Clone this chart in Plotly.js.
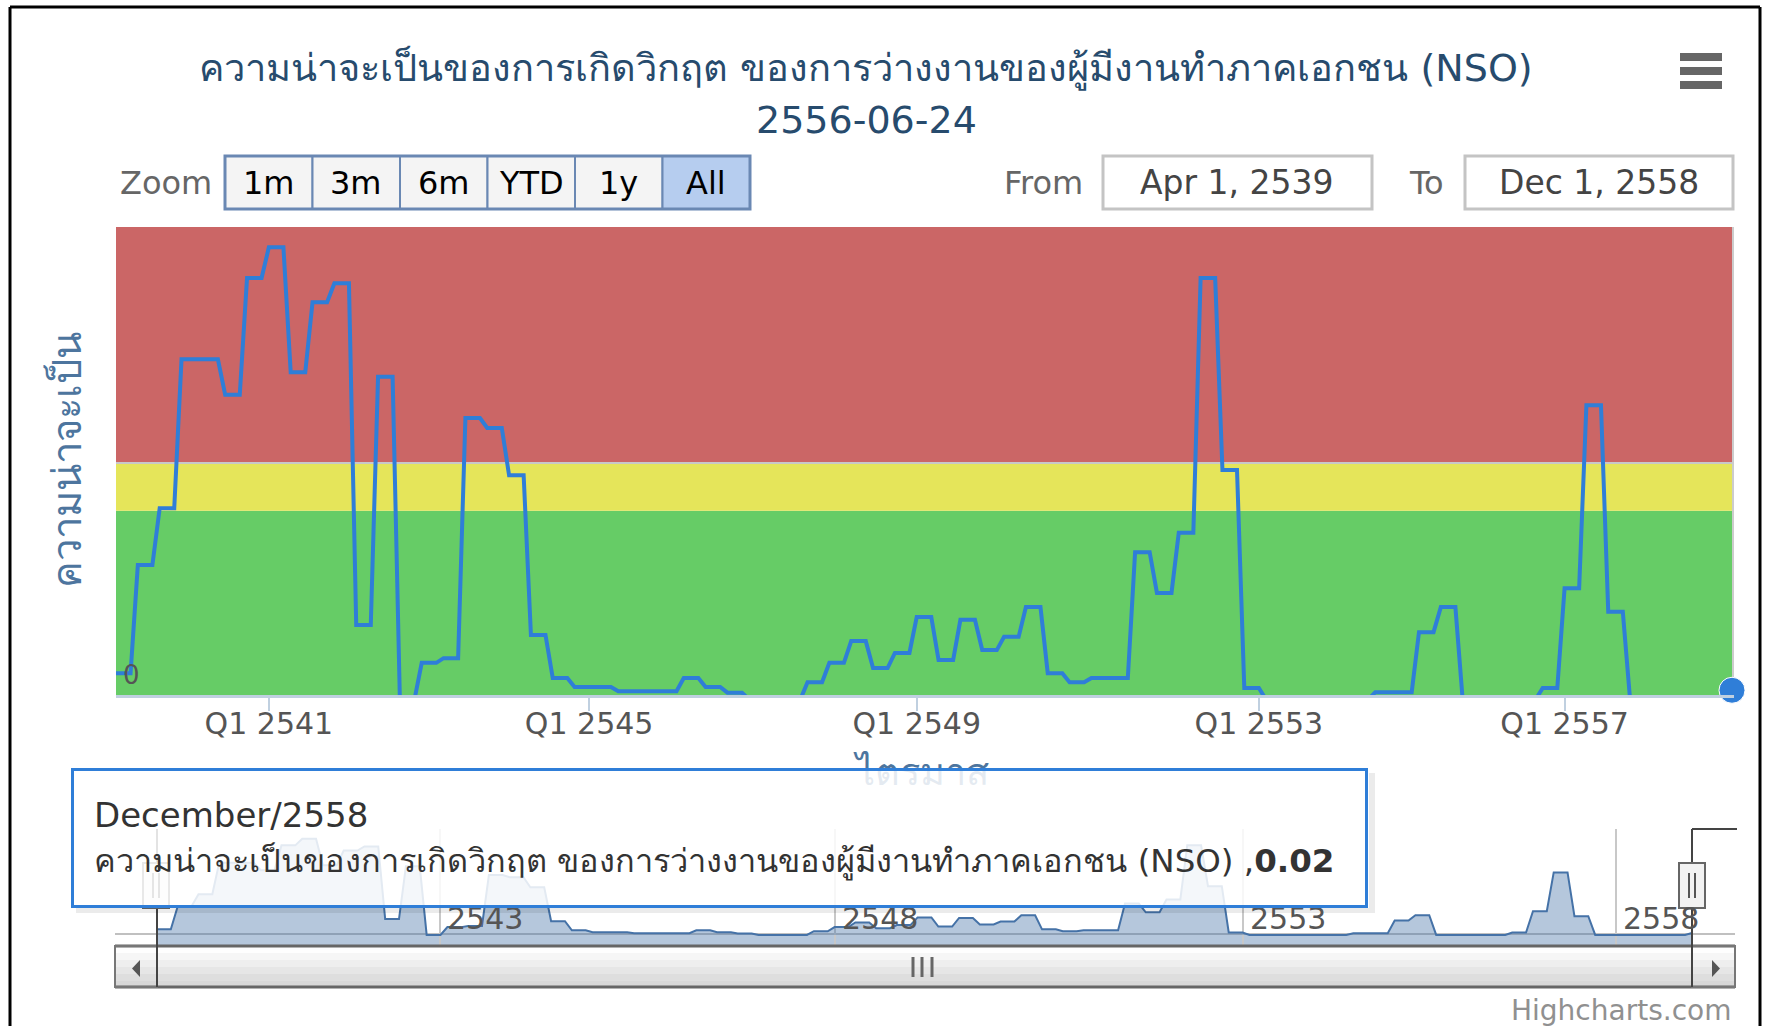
<!DOCTYPE html>
<html>
<head>
<meta charset="utf-8">
<script src="https://cdn.plot.ly/plotly-3.0.1.min.js"></script>
<style>
  html, body { margin: 0; padding: 0; background: #fff; }
  #chart { width: 1768px; height: 1026px; }
</style>
</head>
<body>
<div id="chart"></div>
<script>
// ข้อมูลความน่าจะเป็น (รายเดือน, แกน x แบบ ordinal)
var values = [
  0.056, 0.056, 0.056, 0.285, 0.285, 0.285, 0.405, 0.405, 0.405,
  0.72, 0.72, 0.72, 0.72, 0.72, 0.72,
  0.645, 0.645, 0.645, 0.892, 0.892, 0.892,
  0.957, 0.957, 0.957, 0.693, 0.693, 0.693, 0.841, 0.841, 0.841, 0.881, 0.881, 0.881,
  0.158, 0.158, 0.158, 0.683, 0.683, 0.683, 0, 0, 0,
  0.078, 0.078, 0.078, 0.088, 0.088, 0.088, 0.596, 0.596, 0.596, 0.575, 0.575, 0.575,
  0.475, 0.475, 0.475, 0.137, 0.137, 0.137, 0.046, 0.046, 0.046,
  0.027, 0.027, 0.027, 0.027, 0.027, 0.027,
  0.018, 0.018, 0.018, 0.018, 0.018, 0.018, 0.018, 0.018, 0.018,
  0.046, 0.046, 0.046, 0.027, 0.027, 0.027, 0.015, 0.015, 0.015,
  0, 0, 0, 0, 0, 0, 0, 0,
  0.037, 0.037, 0.037, 0.078, 0.078, 0.078, 0.124, 0.124, 0.124, 0.067, 0.067, 0.067,
  0.099, 0.099, 0.099, 0.175, 0.175, 0.175, 0.084, 0.084, 0.084, 0.169, 0.169, 0.169,
  0.105, 0.105, 0.105, 0.133, 0.133, 0.133, 0.196, 0.196, 0.196, 0.056, 0.056, 0.056,
  0.037, 0.037, 0.037,
  0.046, 0.046, 0.046, 0.046, 0.046, 0.046,
  0.312, 0.312, 0.312, 0.226, 0.226, 0.226, 0.353, 0.353, 0.353,
  0.892, 0.892, 0.892, 0.486, 0.486, 0.486, 0.025, 0.025, 0.025,
  0, 0, 0, 0, 0, 0, 0, 0, 0, 0, 0, 0, 0, 0, 0,
  0.016, 0.016, 0.016, 0.016, 0.016, 0.016,
  0.143, 0.143, 0.143, 0.196, 0.196, 0.196,
  0, 0, 0, 0, 0, 0, 0, 0, 0, 0, 0,
  0.025, 0.025, 0.025, 0.236, 0.236, 0.236, 0.623, 0.623, 0.623, 0.186, 0.186, 0.186,
  0, 0, 0, 0, 0, 0, 0, 0, 0, 0, 0, 0, 0, 0,
  0.02
]

var quarterTicks = [21, 65, 110, 157, 199]
var quarterLabels = ['Q1 2541', 'Q1 2545', 'Q1 2549', 'Q1 2553', 'Q1 2557']
var navTicks = [41, 98, 157, 211]
var navLabels = ['2543', '2548', '2553', '2558']

var bandFrom = [0, 0.4, 0.5]
var bandTo = [0.4, 0.5, 1.0]
var bandColors = ['#66cc66', '#e5e55a', '#cb6666']

var zoomButtons = ['1m', '3m', '6m', 'YTD', '1y', 'All']
var fromDate = 'Apr 1, 2539'
var toDate = 'Dec 1, 2558'

var seriesName = 'ความน่าจะเป็นของการเกิดวิกฤต ของการว่างงานของผู้มีงานทำภาคเอกชน (NSO)'
var subTitle = '2556-06-24'
var yTitle = 'ความน่าจะเป็น'
var xTitle = 'ไตรมาส'
var hoverMonth = 'December/2558'

var W = 1768, H = 1026
var FONT = 'DejaVu Sans, Noto Sans, sans-serif'
function px(x) { return x / W }
function py(y) { return 1 - y / H }

var idx = values.map(function (v, i) { return i })
var last = values.length - 1

// เส้นหลัก
var data = [
  {
    x: idx, y: values, mode: 'lines', xaxis: 'x', yaxis: 'y',
    line: { color: '#2f7ed8', width: 4 }, hoverinfo: 'skip'
  },
  // navigator
  {
    x: idx, y: values, mode: 'lines', xaxis: 'x2', yaxis: 'y2',
    fill: 'tozeroy', fillcolor: 'rgba(69,114,167,0.4)',
    line: { color: '#4572a7', width: 2 }, hoverinfo: 'skip'
  },
  // จุดที่ถูกเลือก
  {
    x: [idx[last]], y: [values[last]], mode: 'markers', xaxis: 'x', yaxis: 'y',
    marker: { size: 26, color: '#2f7ed8', line: { color: '#ffffff', width: 1 } },
    cliponaxis: false, hoverinfo: 'skip'
  }
]

var shapes = []
function rectPx(x0, y0, x1, y1, fill, lineColor, lineWidth, layer) {
  shapes.push({
    type: 'rect', xref: 'paper', yref: 'paper',
    x0: px(x0), x1: px(x1), y0: py(y1), y1: py(y0),
    fillcolor: fill, line: { color: lineColor || 'rgba(0,0,0,0)', width: lineWidth || 0 },
    layer: layer || 'above'
  })
}
function linePx(x0, y0, x1, y1, color, width) {
  shapes.push({
    type: 'line', xref: 'paper', yref: 'paper',
    x0: px(x0), x1: px(x1), y0: py(y0), y1: py(y1),
    line: { color: color, width: width }, layer: 'above'
  })
}
function pathPx(pts, fill) {
  var d = pts.map(function (p, i) { return (i ? 'L ' : 'M ') + px(p[0]) + ' ' + py(p[1]) }).join(' ') + ' Z'
  shapes.push({ type: 'path', xref: 'paper', yref: 'paper', path: d, fillcolor: fill, line: { width: 0 }, layer: 'above' })
}

// แถบสี
for (var b = 0; b < bandFrom.length; b++) {
  shapes.push({
    type: 'rect', xref: 'x', yref: 'y', x0: 0, x1: last, y0: bandFrom[b], y1: bandTo[b],
    fillcolor: bandColors[b], line: { width: 0 }, layer: 'below'
  })
}

// navigator: พื้นใต้ศูนย์ + เส้นแกน
shapes.push({
  type: 'rect', xref: 'x2', yref: 'y2', x0: 0, x1: last, y0: -0.11, y1: 0,
  fillcolor: 'rgba(69,114,167,0.4)', line: { width: 0 }, layer: 'below'
})
shapes.push({
  type: 'line', xref: 'paper', yref: 'paper', x0: px(115), x1: px(1735), y0: py(934), y1: py(934),
  line: { color: '#c0c0c0', width: 2 }, layer: 'below'
})

// scrollbar
var stripes = ['#fefefe', '#f6f6f6', '#eeeeee', '#e6e6e6', '#dedede', '#d8d8d8']
for (var s = 0; s < stripes.length; s++) {
  rectPx(115, 946 + s * 7, 1735, Math.min(987, 953 + s * 7), stripes[s])
}
linePx(115, 946, 1735, 946, '#666', 3)
linePx(115, 987, 1735, 987, '#666', 3)
rectPx(115, 946, 157, 987, 'rgba(0,0,0,0)', '#777', 2)
rectPx(1692, 946, 1735, 987, 'rgba(0,0,0,0)', '#777', 2)
pathPx([[140, 960], [132, 968.5], [140, 977]], '#555')
pathPx([[1712, 960], [1720, 968.5], [1712, 977]], '#555')
;[913, 922, 932].forEach(function (gx) { linePx(gx, 957, gx, 977, '#666', 3) })

// navigator outline + handles
linePx(157, 829, 157, 987, '#444', 2)
linePx(1692, 829, 1692, 987, '#444', 2)
linePx(1692, 829, 1737, 829, '#444', 2)
;[156, 1692].forEach(function (hx) {
  rectPx(hx - 13, 863, hx + 13, 908, '#f2f2f2', '#666', 2)
  linePx(hx - 3, 873, hx - 3, 898, '#555', 2)
  linePx(hx + 3, 873, hx + 3, 898, '#555', 2)
})

// ปุ่ม zoom
var btnLeft = 225, btnW = 87.5
zoomButtons.forEach(function (t, i) {
  var sel = i === zoomButtons.length - 1
  rectPx(btnLeft + i * btnW, 156, btnLeft + (i + 1) * btnW, 209, sel ? '#b6cdef' : '#f4f4f4', '#6a88b3', 2)
})
rectPx(btnLeft, 156, btnLeft + zoomButtons.length * btnW, 209, 'rgba(0,0,0,0)', '#6a88b3', 3)

// ช่อง From / To
rectPx(1103, 156, 1372, 209, '#ffffff', '#c4c4c4', 3)
rectPx(1465, 156, 1733, 209, '#ffffff', '#c4c4c4', 3)

// เมนู
;[53, 67, 81].forEach(function (my) { rectPx(1680, my, 1722, my + 8, '#666') })

// tooltip shadow
rectPx(1369, 773, 1375, 913, 'rgba(0,0,0,0.08)')
rectPx(76, 908, 1369, 913, 'rgba(0,0,0,0.08)')

// กรอบภาพ
linePx(10, 7, 1760, 7, '#000', 3)
linePx(10, 7, 10, 1026, '#000', 3)
linePx(1760, 7, 1760, 1026, '#000', 3)

var annotations = []
function textPx(x, y, text, size, color, anchor, extra) {
  var a = {
    xref: 'paper', yref: 'paper', x: px(x), y: py(y), text: text, showarrow: false,
    xanchor: anchor || 'center', yanchor: 'middle',
    font: { family: FONT, size: size, color: color }
  }
  for (var k in extra || {}) a[k] = extra[k]
  annotations.push(a)
}

textPx(866, 120, subTitle, 38, '#274b6d')
textPx(66, 460, yTitle, 40, '#4d759e', 'center', { textangle: -90 })
textPx(921, 772, xTitle, 38, '#4d759e')

navLabels.forEach(function (t, i) {
  annotations.push({
    xref: 'x2', yref: 'paper', x: navTicks[i], y: py(918), text: t, showarrow: false,
    xanchor: 'left', yanchor: 'middle', xshift: 5, font: { family: FONT, size: 30, color: '#555' }
  })
})

annotations.push({
  xref: 'x', yref: 'y', x: idx[2], y: values[2], text: '0', showarrow: false,
  xshift: 1, yshift: -2, font: { family: FONT, size: 26, color: '#555' }
})

textPx(118, 183, 'Zoom', 32, '#666', 'left')
zoomButtons.forEach(function (t, i) {
  textPx(btnLeft + (i + 0.5) * btnW, 183, t, 32, '#000')
})
textPx(1043, 183, 'From', 32, '#666')
textPx(1426, 183, 'To', 32, '#666')
textPx(1237, 183, fromDate, 33, '#444')
textPx(1599, 183, toDate, 33, '#444')
textPx(1733, 1010, 'Highcharts.com', 28, '#909090', 'right')

// tooltip
annotations.push({
  xref: 'paper', yref: 'paper', x: px(71), y: py(768), xanchor: 'left', yanchor: 'top',
  text: hoverMonth + '<br><span style="font-size:32.5px">' + seriesName + ' ,<b>' +
    values[last].toFixed(2) + '</b></span>',
  showarrow: false, align: 'left', width: 1251, height: 94,
  bgcolor: 'rgba(255,255,255,0.85)', bordercolor: '#2f7ed8', borderwidth: 3, borderpad: 20,
  font: { family: FONT, size: 34, color: '#333' }
})

var layout = {
  width: W, height: H,
  margin: { l: 0, r: 0, t: 0, b: 0 },
  paper_bgcolor: '#ffffff', plot_bgcolor: '#ffffff',
  showlegend: false, hovermode: false,
  font: { family: FONT },
  title: {
    text: seriesName,
    x: px(866), xanchor: 'center', y: py(68), yanchor: 'middle',
    font: { family: FONT, size: 38, color: '#274b6d' }
  },
  xaxis: {
    domain: [px(116), px(1732)], range: [0, last], anchor: 'y',
    tickmode: 'array', tickvals: quarterTicks, ticktext: quarterLabels,
    ticks: 'outside', ticklen: 13, tickwidth: 2, tickcolor: '#c0d0e0',
    ticklabelstandoff: -13,
    showline: true, linecolor: '#c0d0e0', linewidth: 3,
    showgrid: false, zeroline: false,
    tickfont: { family: FONT, size: 30, color: '#555' }
  },
  yaxis: {
    domain: [py(695), py(227)], range: [0.01, 1.0], anchor: 'x', side: 'right',
    tickmode: 'array', tickvals: [0.5], showticklabels: false, ticks: '',
    showgrid: true, gridcolor: '#c8c8c8', gridwidth: 2, zeroline: false,
    showline: true, linecolor: '#cccccc', linewidth: 2, layer: 'below traces'
  },
  xaxis2: {
    domain: [px(157), px(1692)], range: [0, last], anchor: 'y2',
    tickmode: 'array', tickvals: navTicks, showticklabels: false, ticks: '',
    showgrid: true, gridcolor: '#c8c8c8', gridwidth: 2, zeroline: false, showline: false
  },
  yaxis2: {
    domain: [py(946), py(829)], range: [-0.11, 1.055], anchor: 'x2',
    showgrid: false, zeroline: false, showticklabels: false, ticks: ''
  },
  shapes: shapes,
  annotations: annotations
}

Plotly.newPlot('chart', data, layout, { displayModeBar: false, staticPlot: true })
</script>
</body>
</html>
